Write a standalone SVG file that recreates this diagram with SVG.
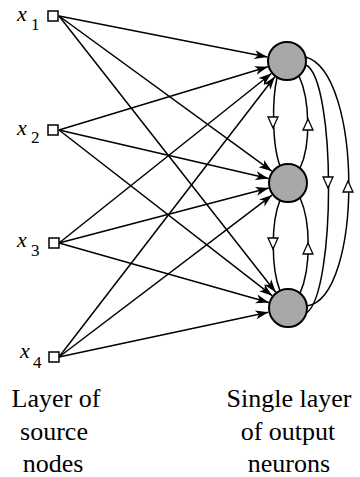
<svg xmlns="http://www.w3.org/2000/svg" width="360" height="477" viewBox="0 0 360 477">
<style>
.src{fill:#fff;stroke:#000;stroke-width:1.5}
.neu{fill:#a8a8a8;stroke:#000;stroke-width:2}
.ff{stroke:#000;stroke-width:1.5;fill:none;marker-end:url(#ah)}
.fb{stroke:#000;stroke-width:1.5;fill:none}
.oa{fill:#fff;stroke:#000;stroke-width:1.3;stroke-linejoin:miter}
text{font-family:Liberation Serif,Times New Roman,Tinos,DejaVu Serif,serif;fill:#000}
.var{font-style:italic;font-size:22px}
.sub{font-size:17px}
.cap{font-size:26px;text-anchor:middle}
</style>
<defs>
<marker id="ah" viewBox="-14 -5 15 10" refX="0" refY="0" markerWidth="15" markerHeight="10" markerUnits="userSpaceOnUse" orient="auto">
<path d="M0,0 L-13,-4.5 L-9.5,0 L-13,4.5 Z" fill="#000"/>
</marker>
</defs>
<g id="connectors">
<line class="ff" x1="59" y1="16" x2="267.4" y2="57.1"/>
<line class="ff" x1="59" y1="16" x2="271.8" y2="171.2"/>
<line class="ff" x1="59" y1="16" x2="275.7" y2="292.3"/>
<line class="ff" x1="59" y1="130" x2="267.9" y2="66.8"/>
<line class="ff" x1="59" y1="130" x2="268.5" y2="178.5"/>
<line class="ff" x1="59" y1="130" x2="272.2" y2="295.7"/>
<line class="ff" x1="59" y1="243" x2="271.4" y2="73.5"/>
<line class="ff" x1="59" y1="243" x2="268.7" y2="188.1"/>
<line class="ff" x1="59" y1="243" x2="268.8" y2="302.5"/>
<line class="ff" x1="59" y1="357" x2="274.8" y2="76.8"/>
<line class="ff" x1="59" y1="357" x2="272.1" y2="195.1"/>
<line class="ff" x1="59" y1="357" x2="268.4" y2="312.2"/>
<path class="fb" d="M277,77.5 C272,100 272,145 280,165.8"/>
<path class="fb" d="M299,76 C310,100 311,145 300,168.3"/>
<path class="fb" d="M280,200.3 C271,222 271,268 280,290.8"/>
<path class="fb" d="M300,197.7 C311,222 311,268 300,293.3"/>
<path class="fb" d="M306,65 C336,80 336,292 306.5,313"/>
<path class="fb" d="M305.5,57 C363,72 363,298 307,306"/>
<polygon class="oa" points="268,117 278,117 273,128"/>
<polygon class="oa" points="308,119 303,130 313,130"/>
<polygon class="oa" points="268,238 278,238 273,249"/>
<polygon class="oa" points="308,243 303,254 313,254"/>
<polygon class="oa" points="323,177 333,177 328,188"/>
<polygon class="oa" points="348,181 343,192 353,192"/>
</g>
<g id="x1"><rect class="src" x="48" y="11" width="10" height="10"/><text class="var" x="17" y="21">x</text><text class="sub" x="31" y="30">1</text></g>
<g id="x2"><rect class="src" x="48" y="125" width="10" height="10"/><text class="var" x="17" y="135">x</text><text class="sub" x="31" y="143">2</text></g>
<g id="x3"><rect class="src" x="49" y="238" width="10" height="10"/><text class="var" x="17" y="247">x</text><text class="sub" x="31" y="256">3</text></g>
<g id="x4"><rect class="src" x="49" y="352" width="10" height="10"/><text class="var" x="20" y="358">x</text><text class="sub" x="33" y="368">4</text></g>
<g id="n1"><circle class="neu" cx="287" cy="61" r="19"/></g>
<g id="n2"><circle class="neu" cx="288" cy="183" r="19"/></g>
<g id="n3"><circle class="neu" cx="288" cy="308" r="19"/></g>
<g id="caption-left"><text class="cap" x="56" y="407">Layer of</text><text class="cap" x="54" y="440">source</text><text class="cap" x="53" y="472">nodes</text></g>
<g id="caption-right"><text class="cap" x="289" y="407">Single layer</text><text class="cap" x="288" y="440">of output</text><text class="cap" x="289" y="472">neurons</text></g>
</svg>
